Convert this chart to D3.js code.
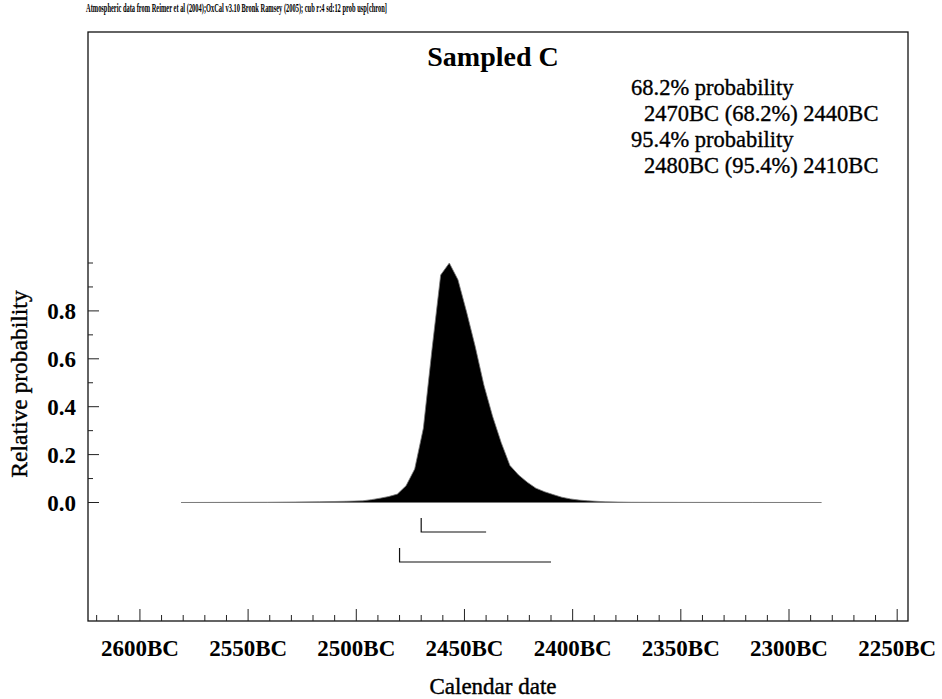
<!DOCTYPE html>
<html>
<head>
<meta charset="utf-8">
<script src="https://cdn.jsdelivr.net/npm/d3@7"></script>
<style>
  body { margin: 0; background: #fff; }
  svg { display: block; font-family: "Liberation Serif", "Times New Roman", serif; }
</style>
</head>
<body>
<div id="chart"></div>
<script>
// data (calendar years BC, relative probability)
var years = [2581, 2541, 2517, 2505, 2497, 2493, 2489, 2485, 2481, 2477, 2473, 2469, 2465, 2461,
             2457, 2453, 2449, 2445, 2441, 2437, 2433, 2429, 2425, 2421, 2417, 2413, 2409, 2405,
             2401, 2397, 2393, 2385, 2373, 2349, 2317, 2285];
var prob = [0, 0.001, 0.003, 0.005, 0.007, 0.012, 0.018, 0.025, 0.035, 0.07, 0.14, 0.31, 0.64, 0.95,
            1.0, 0.93, 0.795, 0.65, 0.49, 0.36, 0.25, 0.155, 0.115, 0.085, 0.06, 0.045, 0.033, 0.022,
            0.015, 0.01, 0.007, 0.003, 0.001, 0.0005, 0.0002, 0];

var xTicks = [2600, 2550, 2500, 2450, 2400, 2350, 2300, 2250];
var yTicks = [0, 0.2, 0.4, 0.6, 0.8];

// hpd ranges
var range68 = [2470, 2440];
var range95 = [2480, 2410];

var headerText = "Atmospheric data from Reimer et al (2004);OxCal v3.10 Bronk Ramsey (2005); cub r:4 sd:12 prob usp[chron]";
var titleText = "Sampled C";
var legendLines = ["68.2% probability", "2470BC (68.2%) 2440BC", "95.4% probability", "2480BC (95.4%) 2410BC"];

var W = 942, H = 699;
var frame = {left: 88, right: 908, top: 32, bottom: 621};

var svg = d3.select("#chart").append("svg")
  .attr("width", W)
  .attr("height", H);

var x = d3.scaleLinear().domain([2624, 2245]).range([frame.left, frame.right]);
var y = d3.scaleLinear().domain([0, 1]).range([502.5, 263]);

// frame
svg.append("rect")
  .attr("x", frame.left)
  .attr("y", frame.top)
  .attr("width", frame.right - frame.left)
  .attr("height", frame.bottom - frame.top)
  .attr("fill", "none")
  .attr("stroke", "#111")
  .attr("stroke-width", 1.3);

// header
svg.append("text")
  .attr("x", 86)
  .attr("y", 12)
  .attr("font-size", 11.5)
  .attr("font-weight", "bold")
  .attr("textLength", 301)
  .attr("lengthAdjust", "spacingAndGlyphs")
  .text(headerText);

// title
svg.append("text")
  .attr("x", 493)
  .attr("y", 66)
  .attr("text-anchor", "middle")
  .attr("font-size", 28)
  .attr("font-weight", "bold")
  .text(titleText);

// legend text (scan makes it look heavy, so a light stroke)
var legendY = [95, 121, 147, 173];
legendLines.forEach(function(t, i) {
  svg.append("text")
    .attr("x", i % 2 == 0 ? 631 : 644)
    .attr("y", legendY[i])
    .attr("font-size", 22.5)
    .attr("stroke", "#000")
    .attr("stroke-width", 0.35)
    .text(t);
});

// x axis (ticks up from bottom of frame)
var xMinor = d3.range(2620, 2244, -10);
svg.append("g").selectAll("line.minor")
  .data(xMinor)
  .enter().append("line")
    .attr("x1", function(d) { return x(d); })
    .attr("x2", function(d) { return x(d); })
    .attr("y1", frame.bottom)
    .attr("y2", function(d) { return xTicks.indexOf(d) >= 0 ? frame.bottom - 12 : frame.bottom - 6; })
    .attr("stroke", "#222")
    .attr("stroke-width", 1);

svg.append("g").selectAll("text")
  .data(xTicks)
  .enter().append("text")
    .attr("x", function(d) { return x(d); })
    .attr("y", 656)
    .attr("text-anchor", "middle")
    .attr("font-size", 23)
    .attr("font-weight", "bold")
    .text(function(d) { return d + "BC"; });

svg.append("text")
  .attr("x", 493)
  .attr("y", 694)
  .attr("text-anchor", "middle")
  .attr("font-size", 23)
  .attr("stroke", "#000")
  .attr("stroke-width", 0.4)
  .text("Calendar date");

// y axis
var yMinor = d3.range(0, 1.01, 0.1);
svg.append("g").selectAll("line")
  .data(yMinor)
  .enter().append("line")
    .attr("x1", frame.left)
    .attr("x2", function(d, i) { return (i % 2 == 0 && i < 10) ? frame.left + 11 : frame.left + 5; })
    .attr("y1", function(d) { return y(d); })
    .attr("y2", function(d) { return y(d); })
    .attr("stroke", "#222")
    .attr("stroke-width", 1);

svg.append("g").selectAll("text")
  .data(yTicks)
  .enter().append("text")
    .attr("x", 76)
    .attr("y", function(d) { return y(d) + 8; })
    .attr("text-anchor", "end")
    .attr("font-size", 23)
    .attr("font-weight", "bold")
    .text(function(d) { return d3.format(".1f")(d); });

svg.append("text")
  .attr("transform", "translate(27,384) rotate(-90)")
  .attr("text-anchor", "middle")
  .attr("font-size", 23.5)
  .attr("stroke", "#000")
  .attr("stroke-width", 0.4)
  .text("Relative probability");

// distribution
var pts = years.map(function(d, i) { return {yr: d, p: prob[i]}; });

svg.append("path")
  .datum(pts)
  .attr("d", d3.area()
    .x(function(d) { return x(d.yr); })
    .y0(y(0))
    .y1(function(d) { return y(d.p); }))
  .attr("fill", "#000")
  .attr("stroke", "#777")
  .attr("stroke-width", 0.8);

// range brackets
function bracket(r, yy) {
  svg.append("path")
    .attr("d", "M" + x(r[0]) + "," + (yy - 14) + "V" + yy + "H" + x(r[1]))
    .attr("fill", "none")
    .attr("stroke", "#111")
    .attr("stroke-width", 1.2);
}
bracket(range68, 532);
bracket(range95, 562);
</script>
</body>
</html>
